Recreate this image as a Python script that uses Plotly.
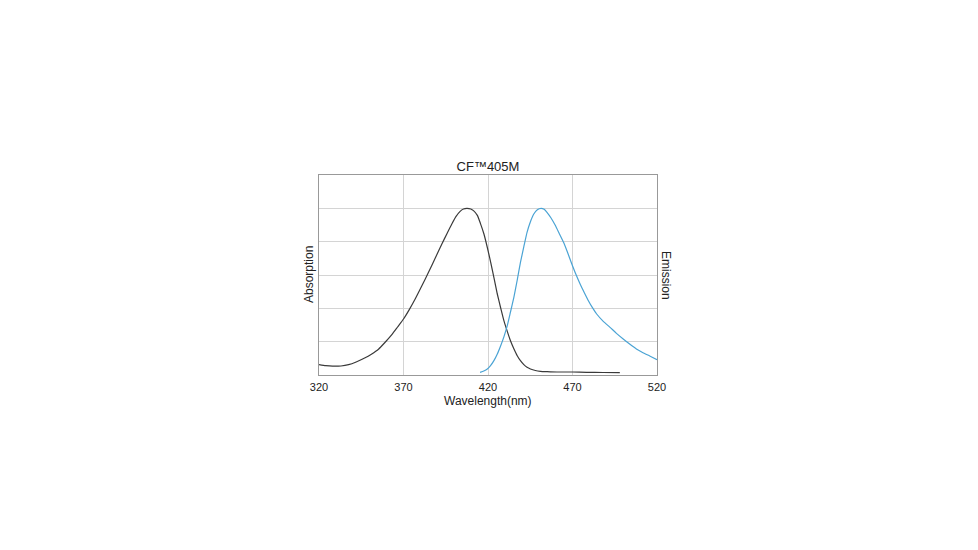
import plotly.graph_objects as go

# Absorption spectrum (normalised)
abs_wl = [320, 324, 328, 333, 337.5, 342, 347.3, 351, 355.2, 359, 363.1, 366.5, 370,
          373.5, 376.9, 380.8, 384.8, 388.8, 392.7, 395.7, 398.6, 401, 403.5, 405.5,
          407.5, 409.8, 411.4, 413.7, 415.5, 417.6, 419.6, 421.6, 423.6, 425.5, 427.5,
          429.4, 431.4, 433.3, 435.3, 437.3, 439.2, 441.2, 443.1, 445.1, 448, 451,
          455, 460.8, 470, 478.4, 488, 498]
abs_val = [0.062, 0.056, 0.053, 0.054, 0.062, 0.078, 0.103, 0.125, 0.155, 0.195, 0.242,
           0.288, 0.336, 0.394, 0.456, 0.534, 0.616, 0.702, 0.786, 0.848, 0.906, 0.95,
           0.982, 0.996, 1.0, 0.996, 0.986, 0.958, 0.91, 0.846, 0.765, 0.676, 0.58,
           0.486, 0.402, 0.326, 0.262, 0.206, 0.158, 0.116, 0.086, 0.062, 0.046, 0.036,
           0.027, 0.022, 0.02, 0.018, 0.018, 0.016, 0.015, 0.014]

# Emission spectrum (normalised)
em_wl = [415.3, 417.5, 419.6, 421.5, 423.5, 425.5, 427.5, 429.5, 431.4, 433.3, 435.3,
         437.3, 439.2, 441.2, 443.1, 445.1, 447.1, 449.2, 451.4, 453.2, 454.9, 457.3,
         459.8, 462.2, 464.7, 467.2, 469.6, 472, 474.5, 477, 479.4, 481.8, 484.3, 488.2,
         492.2, 496, 500, 504, 507.8, 511.7, 515.7, 520]
em_val = [0.016, 0.024, 0.036, 0.056, 0.086, 0.126, 0.176, 0.232, 0.296, 0.378, 0.466,
          0.57, 0.676, 0.77, 0.856, 0.92, 0.966, 0.992, 1.0, 0.994, 0.976, 0.942, 0.898,
          0.848, 0.796, 0.732, 0.666, 0.604, 0.546, 0.494, 0.446, 0.404, 0.366, 0.322,
          0.286, 0.25, 0.216, 0.184, 0.156, 0.134, 0.114, 0.092]

x_ticks = [320, 370, 420, 470, 520]

fig = go.Figure()
fig.add_trace(go.Scatter(x=abs_wl, y=abs_val, mode="lines",
                         line=dict(color="#3a3a3a", width=1.2, shape="spline", smoothing=0.5),
                         hoverinfo="skip", showlegend=False))
fig.add_trace(go.Scatter(x=em_wl, y=em_val, mode="lines",
                         line=dict(color="#4aa3d4", width=1.2, shape="spline", smoothing=0.5),
                         hoverinfo="skip", showlegend=False))

lab_font = dict(family="Liberation Sans, Arial, sans-serif", size=12, color="#222")

fig.update_layout(
    width=978, height=550,
    margin=dict(l=311, r=329, t=167, b=183),
    paper_bgcolor="white", plot_bgcolor="white",
    font=dict(family="Liberation Sans, Arial, sans-serif", size=11, color="#222"),
    title=dict(text="CF™405M", x=0.5, xref="paper", xanchor="center",
               y=1, yref="paper", yanchor="bottom", pad=dict(b=4),
               font=dict(size=13, color="#222")),
    xaxis=dict(range=[320, 520], tickvals=x_ticks, ticks="", showgrid=True,
               gridcolor="#d4d4d4", gridwidth=1, zeroline=False,
               showline=True, linecolor="#999", linewidth=1, mirror=True,
               ticklabelstandoff=2, tickfont=dict(size=11)),
    yaxis=dict(range=[0, 1.2], dtick=0.2, showticklabels=False, ticks="",
               showgrid=True, gridcolor="#d4d4d4", gridwidth=1, zeroline=False,
               showline=True, linecolor="#999", linewidth=1, mirror=True),
    annotations=[
        dict(text="Wavelength(nm)", x=0.5, xref="paper", xanchor="center",
             y=0, yref="paper", yshift=-26, yanchor="middle",
             showarrow=False, font=lab_font),
        dict(text="Absorption", x=0, xref="paper", xshift=-10, xanchor="center",
             y=0.5, yref="paper", yanchor="middle", textangle=-90,
             showarrow=False, font=lab_font),
        dict(text="Emission", x=1, xref="paper", xshift=9, xanchor="center",
             y=0.5, yref="paper", yanchor="middle", textangle=90,
             showarrow=False, font=lab_font),
    ],
)

fig.write_html("out.html")
